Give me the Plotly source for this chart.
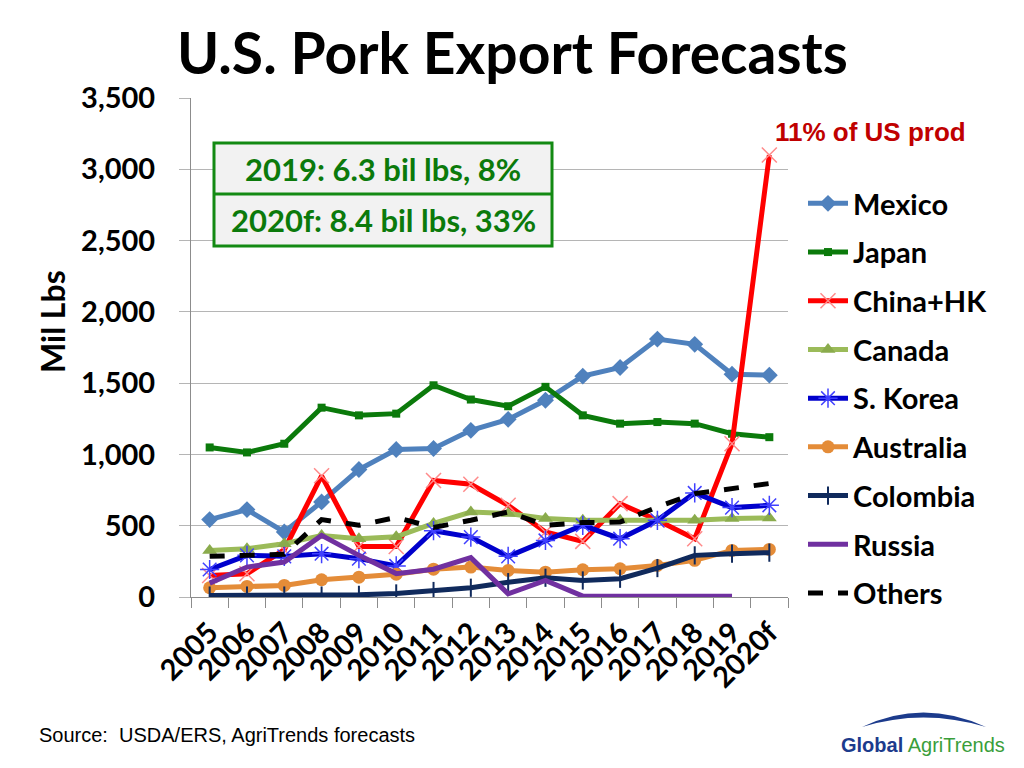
import plotly.graph_objects as go

years = ["2005", "2006", "2007", "2008", "2009", "2010", "2011", "2012",
         "2013", "2014", "2015", "2016", "2017", "2018", "2019", "2020f"]
mexico = [543, 613, 456, 667, 894, 1035, 1042, 1169, 1246, 1380, 1549, 1610, 1809, 1772, 1563, 1556]
japan = [1049, 1014, 1075, 1328, 1274, 1286, 1485, 1385, 1338, 1474, 1274, 1216, 1227, 1216, 1145, 1121]
china_hk = [151, 163, 332, 850, 354, 354, 817, 791, 643, 456, 390, 655, 538, 409, 1075, 3100]
canada = [327, 339, 374, 432, 409, 422, 516, 596, 585, 550, 538, 538, 538, 538, 550, 554]
s_korea = [193, 292, 285, 304, 269, 218, 465, 420, 285, 397, 503, 409, 538, 730, 627, 643]
australia = [65, 74, 81, 121, 139, 160, 195, 210, 186, 174, 191, 198, 221, 257, 327, 334]
colombia = [10, 10, 10, 10, 15, 25, 42, 65, 104, 135, 116, 128, 203, 292, 304, 311]
russia = [97, 210, 245, 432, 292, 164, 195, 276, 22, 116, 6, 5, 5, 5, 5, None]
others = [285, 292, 300, 543, 503, 558, 488, 538, 596, 503, 522, 526, 631, 725, 760, 796]
y_ticks = [0, 500, 1000, 1500, 2000, 2500, 3000, 3500]

# page is rendered with an 8px body margin: build the figure 8px smaller
OFF = 8
FW, FH = 1024 - OFF, 768 - OFF
L, R, T, B = 191, 788, 98, 597  # plot area in page pixels


def px(x):
    return (x - L) / (R - L)


def py(y):
    return (B - y) / (B - T)


FONT = "Lato"
series = [
    ("Mexico", mexico, dict(color="#4f81bd", width=5), dict(symbol="diamond", size=13, color="#4f81bd")),
    ("Japan", japan, dict(color="#0b7a0b", width=5), dict(symbol="square", size=8, color="#0b7a0b")),
    ("China+HK", china_hk, dict(color="#ff0000", width=5),
     dict(symbol="x-thin-open", size=15, color="#ff8a8a", line=dict(width=1.5, color="#ff8a8a"))),
    ("Canada", canada, dict(color="#9bbb59", width=5), dict(symbol="triangle-up", size=13, color="#8aab4c")),
    ("S. Korea", s_korea, dict(color="#0000cc", width=5),
     dict(symbol="asterisk-open", size=16, color="#4040ff", line=dict(width=1.5, color="#4040ff"))),
    ("Australia", australia, dict(color="#e48c38", width=5), dict(symbol="circle", size=13, color="#e48c38")),
    ("Colombia", colombia, dict(color="#102a5c", width=5),
     dict(symbol="line-ns-open", size=13, color="#102a5c", line=dict(width=2, color="#102a5c"))),
    ("Russia", russia, dict(color="#7030a0", width=5), None),
    ("Others", others, dict(color="#000000", width=5, dash="dash"), None),
]

fig = go.Figure()
for i, (name, vals, line, marker) in enumerate(series):
    kw = dict(x=years, y=vals, name=name, line=line, legendgroup=f"g{i}")
    if marker:
        kw["mode"] = "lines+markers"
        kw["marker"] = marker
    else:
        kw["mode"] = "lines"
    fig.add_trace(go.Scatter(**kw))

fig.update_layout(
    width=FW, height=FH,
    margin=dict(l=L - OFF, r=FW - (R - OFF), t=T - OFF, b=FH - (B - OFF), autoexpand=False),
    paper_bgcolor="white", plot_bgcolor="white",
    font=dict(family=FONT, color="black"),
    showlegend=True,
    legend=dict(
        x=px(803), xanchor="left", y=py(178), yanchor="top",
        font=dict(family=FONT, size=29, color="black", weight="bold"),
        tracegroupgap=8, itemwidth=40, bgcolor="rgba(0,0,0,0)",
    ),
    xaxis=dict(
        type="category", showgrid=False, showline=True, linecolor="#8c8c8c", linewidth=1,
        ticks="outside", tickson="boundaries", ticklen=10, tickcolor="#8c8c8c",
        tickangle=-45, tickfont=dict(family=FONT, size=29, color="black", weight="bold"),
        range=[-0.5, len(years) - 0.5], ticklabelstandoff=6, automargin=False,
    ),
    yaxis=dict(
        range=[0, 3500], tickvals=y_ticks, tickformat=",",
        showgrid=True, gridcolor="#b5b5b5", gridwidth=1,
        showline=True, linecolor="#8c8c8c", linewidth=1,
        ticks="outside", ticklen=11, tickcolor="#b5b5b5",
        tickfont=dict(family=FONT, size=29, color="black", weight="bold"),
        ticklabelstandoff=18, zeroline=False, automargin=False,
    ),
)

annotations = [
    dict(text="<b>U.S. Pork Export Forecasts</b>", x=px(512), y=py(52), xref="paper", yref="paper",
         showarrow=False, xanchor="center", yanchor="middle", font=dict(family=FONT, size=57, color="black")),
    dict(text="<b>Mil Lbs</b>", x=px(52), y=py(322), xref="paper", yref="paper", textangle=-90,
         showarrow=False, xanchor="center", yanchor="middle", font=dict(family=FONT, size=32, color="black")),
    dict(text="<b>2019: 6.3 bil lbs, 8%</b>", x=px(383), y=py(169), xref="paper", yref="paper",
         showarrow=False, xanchor="center", yanchor="middle", font=dict(family=FONT, size=31, color="#0b7a0b")),
    dict(text="<b>2020f: 8.4 bil lbs, 33%</b>", x=px(383), y=py(220), xref="paper", yref="paper",
         showarrow=False, xanchor="center", yanchor="middle", font=dict(family=FONT, size=31, color="#0b7a0b")),
    dict(text="<b>11% of US prod</b>", x=px(871), y=py(132), xref="paper", yref="paper",
         showarrow=False, xanchor="center", yanchor="middle",
         font=dict(family="Liberation Sans", size=26, color="#c00000")),
    dict(text="Source:  USDA/ERS, AgriTrends forecasts", x=px(37), y=py(735), xref="paper", yref="paper",
         showarrow=False, xanchor="left", yanchor="middle",
         font=dict(family="Liberation Sans", size=20, color="black")),
    dict(text="<span style='color:#1c3b8c'><b>Global</b></span> <span style='color:#3a9e3a'>AgriTrends</span>",
         x=px(923), y=py(745), xref="paper", yref="paper",
         showarrow=False, xanchor="center", yanchor="middle",
         font=dict(family="Liberation Sans", size=20)),
]
fig.update_layout(annotations=annotations)

shapes = [
    dict(type="rect", xref="paper", yref="paper", x0=px(214), x1=px(552), y0=py(143), y1=py(246),
         fillcolor="#f2f2f2", line=dict(color="#138a13", width=3), layer="above"),
    dict(type="line", xref="paper", yref="paper", x0=px(214), x1=px(552), y0=py(194), y1=py(194),
         line=dict(color="#138a13", width=3)),
    dict(type="path", xref="paper", yref="paper",
         path=(f"M {px(862)} {py(727)} Q {px(923)} {py(698)} {px(986)} {py(727)} "
               f"Q {px(923)} {py(708)} {px(862)} {py(727)} Z"),
         fillcolor="#1c3b8c", line=dict(width=0)),
]
fig.update_layout(shapes=shapes)
fig.write_html("out.html")
